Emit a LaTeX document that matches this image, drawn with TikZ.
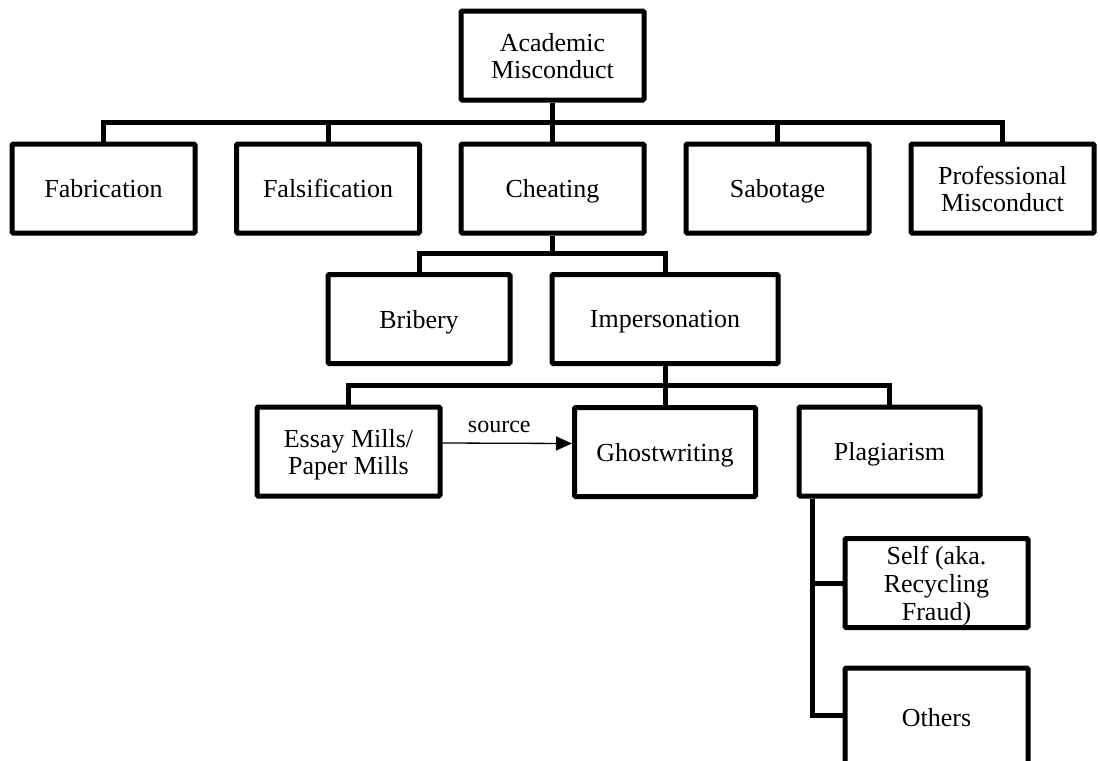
\documentclass[tikz,border=0pt]{standalone}
\usepackage{fontspec}
\setmainfont{Liberation Serif}
\usetikzlibrary{arrows.meta,calc}
\begin{document}
\begin{tikzpicture}[x=0.5pt,y=-0.5pt,
  box/.style={draw, line width=2.5pt, inner sep=0pt, rounded corners=0.6pt,
    minimum width=91.5pt, minimum height=44.5pt, align=center,
    font=\fontsize{13}{13.5}\selectfont, text depth=0pt},
  conn/.style={line width=2.5pt},
  lbl/.style={font=\fontsize{12}{13}\selectfont}]
\useasboundingbox (0,0) rectangle (1100,761);
\clip (0,0) rectangle (1100,761);
\fill[white] (0,0) rectangle (1100,761);

% top level
\node[box] (root) at (552.5,55.5) {Academic\\Misconduct};

% first tier
\node[box] (fab) at (103.5,188.5) {Fabrication};
\node[box] (fal) at (328,188.5) {Falsification};
\node[box] (che) at (552.5,188.5) {Cheating};
\node[box] (sab) at (777.5,188.5) {Sabotage};
\node[box] (pro) at (1002.5,188.5) {Professional\\Misconduct};

% second tier
\node[box, minimum width=91pt] (bri) at (419,319) {Bribery};
\node[box, minimum width=113pt] (imp) at (665,319) {Impersonation};

% third tier
\node[box] (ess) at (348.5,451.5) {Essay Mills/\\Paper Mills};
\node[box, minimum width=90.5pt] (gho) at (665,452) {Ghostwriting};
\node[box, minimum width=90.5pt] (pla) at (889.5,451.5) {Plagiarism};

% plagiarism sub-types
\node[box, font=\fontsize{13}{14}\selectfont] (slf) at (936.5,583) {Self (aka.\\Recycling\\Fraud)};
\node[box, minimum height=50pt, text depth=] (oth) at (936.5,718) {Others};

% bus lines
\coordinate (b1) at (0,122);
\coordinate (b2) at (0,253);
\coordinate (b3) at (0,385);

\draw[conn] (root.south) -- (root.south |- b1);
\draw[conn] (fab.north) |- (pro.north |- b1) -- (pro.north);
\draw[conn] (fal.north) -- (fal.north |- b1);
\draw[conn] (che.north) -- (che.north |- b1);
\draw[conn] (sab.north) -- (sab.north |- b1);

\draw[conn] (che.south) -- (che.south |- b2);
\draw[conn] (bri.north) |- (imp.north |- b2) -- (imp.north);

\draw[conn] (imp.south) -- (gho.north);
\draw[conn] (ess.north) |- (pla.north |- b3) -- (pla.north);

\coordinate (pd) at ([xshift=8pt]pla.south west);
\coordinate (po) at (pd |- 0,715);
\draw[conn] (pd) -- (po) -- (po -| oth.west);
\draw[conn] (pd |- slf.west) -- (slf.west);

% source arrow
\draw[line width=0.65pt, -{Triangle[length=8pt,width=7pt]}]
  ([yshift=4.25pt]ess.east) -- ([yshift=4.25pt]gho.west)
  node[lbl, midway, above=1.5pt, xshift=-4pt] {source};
\end{tikzpicture}
\end{document}
